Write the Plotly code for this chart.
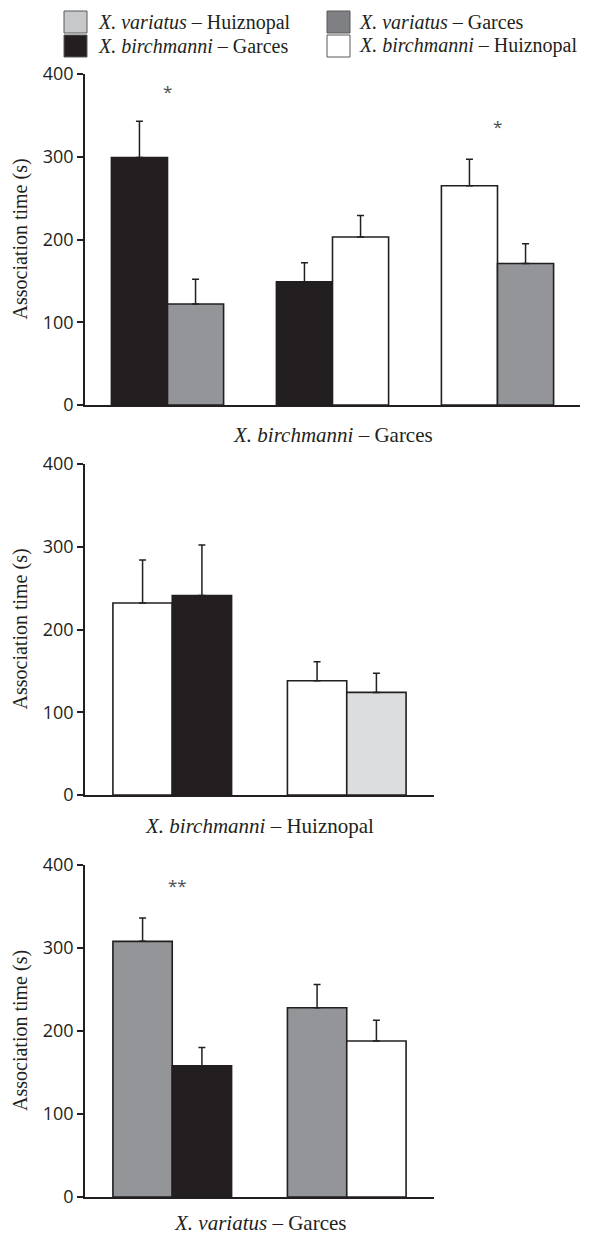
import plotly.graph_objects as go

# ---------------- data ----------------
legend_labels = ["<i>X. variatus</i> – Huiznopal", "<i>X. variatus</i> – Garces",
                 "<i>X. birchmanni</i> – Garces", "<i>X. birchmanni</i> – Huiznopal"]
panel_titles = ["<i>X. birchmanni</i> – Garces", "<i>X. birchmanni</i> – Huiznopal",
                "<i>X. variatus</i> – Garces"]
y_title = "Association time (s)"
y_ticks = [0, 100, 200, 300, 400]

# panel 1 : X. birchmanni – Garces (3 pairs)
p1_left_mean = [299, 149, 265]
p1_left_se = [44, 23, 32]
p1_left_col = ["bg", "bg", "bh"]
p1_right_mean = [122, 203, 171]
p1_right_se = [30, 26, 24]
p1_right_col = ["vg", "bh", "vg"]
p1_stars = [(0, 380, "*"), (2, 338, "*")]

# panel 2 : X. birchmanni – Huiznopal (2 pairs)
p2_left_mean = [232, 138]
p2_left_se = [52, 23]
p2_left_col = ["bh", "bh"]
p2_right_mean = [241, 124]
p2_right_se = [61, 23]
p2_right_col = ["bg", "vh"]
p2_stars = []

# panel 3 : X. variatus – Garces (2 pairs)
p3_left_mean = [308, 228]
p3_left_se = [28, 28]
p3_left_col = ["vg", "vg"]
p3_right_mean = [158, 188]
p3_right_se = [22, 25]
p3_right_col = ["bg", "bh"]
p3_stars = [(0.03, 376, "**")]

# ---------------- style ----------------
INK = "#231f20"
BAR_COL = {"bg": "#231f20", "vg": "#939598", "bh": "#ffffff", "vh": "#dcddde"}
LEG_COL = ["#c7c8ca", "#7f8083", "#231f20", "#ffffff"]
SERIF = "Liberation Serif"
SANS = "Open Sans"
PAGE_OFF = 8            # default body margin of the page
W, H = 590 - PAGE_OFF, 1234 - PAGE_OFF


def px_x(p):
    return (p - PAGE_OFF) / W


def px_y(p):
    return 1 - (p - PAGE_OFF) / H


# panel geometry in page pixels: (x0, x1, ytop, ybottom)
panels = [
    dict(box=(85, 580, 74, 405), n=3,
         L=(p1_left_mean, p1_left_se, p1_left_col),
         R=(p1_right_mean, p1_right_se, p1_right_col),
         stars=p1_stars, title=panel_titles[0], title_y=435),
    dict(box=(85, 434, 464, 795), n=2,
         L=(p2_left_mean, p2_left_se, p2_left_col),
         R=(p2_right_mean, p2_right_se, p2_right_col),
         stars=p2_stars, title=panel_titles[1], title_y=826),
    dict(box=(85, 434, 865, 1197), n=2,
         L=(p3_left_mean, p3_left_se, p3_left_col),
         R=(p3_right_mean, p3_right_se, p3_right_col),
         stars=p3_stars, title=panel_titles[2], title_y=1223),
]

BW = 0.34
fig = go.Figure()
annotations = []
shapes = []
layout = {}

for i, p in enumerate(panels):
    k = "" if i == 0 else str(i + 1)
    xa, ya = "x" + k, "y" + k
    x0, x1, yt, yb = p["box"]
    xs = list(range(p["n"]))
    for side, off in (("L", -BW), ("R", 0.0)):
        mean, se, col = p[side]
        fig.add_trace(go.Bar(
            x=xs, y=mean, width=BW, offset=off,
            marker=dict(color=[BAR_COL[c] for c in col],
                        line=dict(color=INK, width=1.6)),
            error_y=dict(type="data", symmetric=False, array=se,
                         arrayminus=[0] * len(se), color=INK,
                         thickness=1.5, width=3.5),
            xaxis=xa, yaxis=ya, showlegend=False, hoverinfo="y"))
    layout["xaxis" + k] = dict(
        domain=[px_x(x0), px_x(x1)], anchor=ya, range=[-0.5, p["n"] - 0.5],
        showline=True, linecolor=INK, linewidth=1.5, showticklabels=False,
        ticks="", showgrid=False, zeroline=False, fixedrange=True)
    layout["yaxis" + k] = dict(
        domain=[px_y(yb), px_y(yt)], anchor=xa, range=[0, 400],
        tickvals=y_ticks, ticks="outside", ticklen=6, tickwidth=1.5,
        tickcolor=INK, showline=True, linecolor=INK, linewidth=1.5,
        showgrid=False, zeroline=False, automargin=False,
        tickfont=dict(family=SANS, size=18, color=INK), fixedrange=True)
    # x title
    annotations.append(dict(
        x=px_x((x0 + x1) / 2), y=px_y(p["title_y"]), xref="paper", yref="paper",
        text=p["title"], showarrow=False, xanchor="center", yanchor="middle",
        font=dict(family=SERIF, size=21, color=INK)))
    # y title
    annotations.append(dict(
        x=px_x(20), y=px_y((yt + yb) / 2), xref="paper", yref="paper",
        text=y_title, textangle=-90, showarrow=False, xanchor="center",
        yanchor="middle", font=dict(family=SERIF, size=20, color=INK)))
    for sx, sy, st in p["stars"]:
        annotations.append(dict(
            x=sx, y=sy, xref=xa, yref=ya, text=st, showarrow=False,
            xanchor="center", yanchor="middle", yshift=-1,
            font=dict(family=SANS, size=17, color="#4d4d4f")))

# legend drawn with shapes + text
leg_pos = [(64, 22, 96), (327, 22, 357), (64, 46, 96), (327, 46, 357)]
for (sx, cy, tx), lab, c in zip(leg_pos, legend_labels, LEG_COL):
    shapes.append(dict(type="rect", xref="paper", yref="paper",
                       x0=px_x(sx), x1=px_x(sx + 23),
                       y0=px_y(cy + 11), y1=px_y(cy - 11),
                       fillcolor=c, line=dict(color="#58595b", width=1)))
    annotations.append(dict(
        x=px_x(tx), y=px_y(cy), xref="paper", yref="paper", text=lab,
        showarrow=False, xanchor="left", yanchor="middle",
        font=dict(family=SERIF, size=20, color=INK)))

fig.update_layout(
    width=W, height=H, margin=dict(l=0, r=0, t=0, b=0),
    paper_bgcolor="white", plot_bgcolor="white", barmode="overlay",
    annotations=annotations, shapes=shapes, **layout)

fig.write_html("out.html")
